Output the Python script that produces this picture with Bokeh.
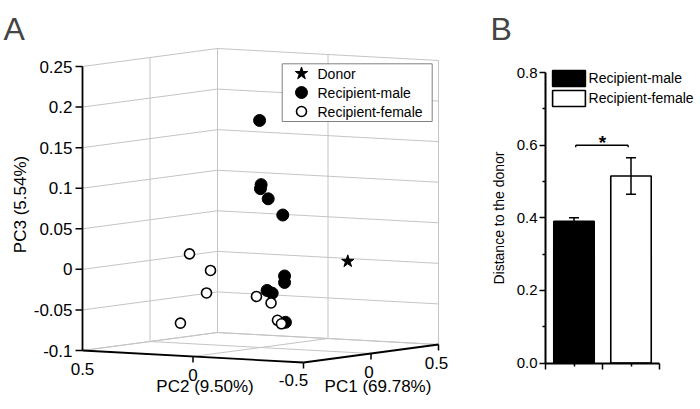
import numpy as np
from bokeh.plotting import figure
from bokeh.models import (Range1d, Legend, LegendItem, Label, FixedTicker, LinearAxis,
                          NumeralTickFormatter, ColumnDataSource)
from bokeh.embed import file_html
from bokeh.resources import INLINE
from bokeh.core.properties import value

FONT = "Liberation Sans"

# ---------------- Panel A data: PCA scores ----------------
donor_pc1 = [0.45]
donor_pc2 = [-0.12]
donor_pc3 = [-0.002]

male_pc1 = [-0.2, -0.2, -0.2, -0.2, -0.2, -0.2, -0.2, -0.2, -0.2, -0.2]
male_pc2 = [-0.118, -0.125, -0.122, -0.157, -0.223, -0.231, -0.231, -0.152, -0.175, -0.235]
male_pc3 = [0.186, 0.107, 0.102, 0.090, 0.071, -0.004, -0.012, -0.023, -0.026, -0.061]

female_pc1 = [-0.3, -0.3, -0.3, -0.3, -0.3, -0.3, -0.3, -0.3]
female_pc2 = [0.138, 0.043, 0.061, 0.179, -0.165, -0.231, -0.260, -0.278]
female_pc3 = [0.020, 0.001, -0.027, -0.066, -0.028, -0.035, -0.056, -0.060]

pc1_lim = [-0.5, 0.5]
pc2_lim = [-0.5, 0.5]
pc3_lim = [-0.1, 0.25]
pc1_ticks = [-0.5, 0.0, 0.5]
pc1_tick_labels = ["-0.5", "0", "0.5"]
pc2_ticks = [0.5, 0.0]
pc2_tick_labels = ["0.5", "0"]
pc3_ticks = [-0.1, -0.05, 0.0, 0.05, 0.1, 0.15, 0.2, 0.25]
pc3_tick_labels = ["-0.1", "-0.05", "0", "0.05", "0.1", "0.15", "0.2", "0.25"]
pc1_title = "PC1 (69.78%)"
pc2_title = "PC2 (9.50%)"
pc3_title = "PC3 (5.54%)"
legend_a = ["Donor", "Recipient-male", "Recipient-female"]

# ---------------- Panel B data ----------------
groups = ["Recipient-male", "Recipient-female"]
group_pos = [1, 2]
distance = [0.39, 0.515]
distance_err = [0.01, 0.05]
b_yticks = [0.0, 0.2, 0.4, 0.6, 0.8]
b_yminor = [0.1, 0.3, 0.5, 0.7]
b_xlim = [0.5, 2.5]
b_ylim = [0.0, 0.8]
b_xmajor = [0.5, 1.5, 2.5]
signif = "*"
signif_level = 0.6
b_ylabel = "Distance to the donor"

# ---------------- canvas / 3D view (orthographic projection) ----------------
W, H = 700, 409
PX = (135.0, -221.0, 0.0)
PY = (18.0, 12.0, 811.4)
ORIGIN_X, ORIGIN_Y = 260.0, 265.86      # screen position of the projection origin


def proj(a, b, c):
    a = np.asarray(a, float)
    b = np.asarray(b, float)
    c = np.asarray(c, float)
    return PX[0] * a + PX[1] * b + PX[2] * c, PY[0] * a + PY[1] * b + PY[2] * c


def scr_x(px):
    return px - ORIGIN_X


def scr_y(py):
    return ORIGIN_Y - py


# panel B placement on the canvas (pixels)
B_LEFT_PX, B_XUNIT = 545.0, 57.0
B_BOTTOM_PX, B_YUNIT = 362.5, 363.125

p = figure(width=W, height=H,
           x_range=Range1d(-ORIGIN_X, W - ORIGIN_X),
           y_range=Range1d(ORIGIN_Y - H, ORIGIN_Y),
           output_backend="svg", toolbar_location=None, x_axis_location=None,
           y_axis_location=None, min_border=0, outline_line_color=None)
p.grid.visible = False
p.xgrid.visible = False
p.ygrid.visible = False
p.extra_x_ranges = {"b": Range1d(b_xlim[0] - B_LEFT_PX / B_XUNIT,
                                 b_xlim[0] + (W - B_LEFT_PX) / B_XUNIT)}
p.extra_y_ranges = {"b": Range1d(b_ylim[0] - (H - B_BOTTOM_PX) / B_YUNIT,
                                 b_ylim[0] + B_BOTTOM_PX / B_YUNIT)}

a0, a1 = pc1_lim
b0, b1 = pc2_lim
c0, c1 = pc3_lim

gx, gy = [], []


def seg(pt, qt, xs, ys):
    x, y = proj([pt[0], qt[0]], [pt[1], qt[1]], [pt[2], qt[2]])
    xs.append(list(x))
    ys.append(list(y))


# back walls and floor grid
for t in pc3_ticks:
    seg((a0, b1, t), (a1, b1, t), gx, gy)
    seg((a1, b1, t), (a1, b0, t), gx, gy)
for t in pc1_ticks[1:]:
    seg((t, b1, c0), (t, b1, c1), gx, gy)
    seg((t, b1, c0), (t, b0, c0), gx, gy)
for t in [b1, 0.0, b0]:
    seg((a1, t, c0), (a1, t, c1), gx, gy)
for t in pc2_ticks:
    seg((a0, t, c0), (a1, t, c0), gx, gy)
p.multi_line(gx, gy, line_color="#c4c4c4", line_width=1)

# black axes
ax, ay = [], []
seg((a0, b1, c0), (a0, b1, c1), ax, ay)
seg((a0, b1, c0), (a0, b0, c0), ax, ay)
seg((a0, b0, c0), (a1, b0, c0), ax, ay)
p.multi_line(ax, ay, line_color="black", line_width=1.8)

TICK = 7.0
zx, zy = proj([a0] * len(pc3_ticks), [b1] * len(pc3_ticks), pc3_ticks)
p.segment(x0=zx, y0=zy, x1=zx - TICK, y1=zy, line_color="black", line_width=1.5)
p.text(x=zx, y=zy, text=pc3_tick_labels, x_offset=-10, text_align="right",
       text_baseline="middle", text_font=value(FONT), text_font_size="17px", text_color="black")
ux, uy = proj([a0] * len(pc2_ticks), pc2_ticks, [c0] * len(pc2_ticks))
tk = [i for i, t in enumerate(pc2_ticks) if t != b1]
p.segment(x0=ux[tk], y0=uy[tk], x1=ux[tk], y1=uy[tk] - 6, line_color="black", line_width=1.5)
p.text(x=ux, y=uy, text=pc2_tick_labels, y_offset=18, text_align="center",
       text_baseline="middle", text_font=value(FONT), text_font_size="17px", text_color="black")
vx, vy = proj(pc1_ticks, [b0] * len(pc1_ticks), [c0] * len(pc1_ticks))
p.segment(x0=vx, y0=vy, x1=vx, y1=vy - 6, line_color="black", line_width=1.5)
p.text(x=vx, y=vy, text=pc1_tick_labels, x_offset=[-10 if t == a0 else -2 for t in pc1_ticks],
       y_offset=[17 if t == a0 else 18.5 for t in pc1_ticks], text_align="center",
       text_baseline="middle", text_font=value(FONT), text_font_size="17px", text_color="black")

mx, my = proj([a0], [(b0 + b1) / 2], [c0])
p.text(x=mx, y=my, text=[pc2_title], x_offset=12, y_offset=30, text_align="center",
       text_baseline="middle", text_font=value(FONT), text_font_size="17px", text_color="black")
mx, my = proj([(a0 + a1) / 2], [b0], [c0])
p.text(x=mx, y=my, text=[pc1_title], x_offset=7, y_offset=33, text_align="center",
       text_baseline="middle", text_font=value(FONT), text_font_size="17px", text_color="black")
mx, my = proj([a0], [b1], [(c0 + c1) / 2])
p.text(x=mx, y=my, text=[pc3_title], x_offset=-62, y_offset=-4, angle=np.pi / 2,
       text_align="center", text_baseline="middle", text_font=value(FONT),
       text_font_size="17px", text_color="black")

STYLE_D = dict(marker="star", size=13, fill_color="black", line_color="black")
STYLE_M = dict(marker="circle", size=12, fill_color="black", line_color="black")
STYLE_F = dict(marker="circle", size=10, fill_color="white", line_color="black", line_width=1.6)

dx, dy = proj(donor_pc1, donor_pc2, donor_pc3)
p.scatter(dx, dy, **STYLE_D)
mxs, mys = proj(male_pc1, male_pc2, male_pc3)
p.scatter(mxs, mys, **STYLE_M)
fxs, fys = proj(female_pc1, female_pc2, female_pc3)
p.scatter(fxs, fys, **STYLE_F)

# legend of panel A (box, swatches, labels)
LA_L, LA_T, LA_R, LA_B = 281.7, 63.3, 431.7, 121.0
LA_ROWS = [73.0, 92.0, 111.0]
LA_MX, LA_TX = 301.0, 317.0
p.quad(left=[scr_x(LA_L)], right=[scr_x(LA_R)], top=[scr_y(LA_T)], bottom=[scr_y(LA_B)],
       fill_color="white", line_color="#808080", line_width=1)
for style, ry in zip([STYLE_D, STYLE_M, STYLE_F], LA_ROWS):
    p.scatter([scr_x(LA_MX)], [scr_y(ry)], **style)
p.text(x=[scr_x(LA_TX)] * 3, y=[scr_y(r) for r in LA_ROWS], text=legend_a,
       text_align="left", text_baseline="middle", text_font=value(FONT),
       text_font_size="14px", text_color="black")

p.add_layout(Label(x=3, y=H - 28, x_units="screen", y_units="screen", text="A",
                   text_font=FONT, text_font_size="32px", text_baseline="alphabetic"))

# ---------------- Panel B ----------------
RB = dict(x_range_name="b", y_range_name="b")
src = ColumnDataSource(dict(x=group_pos, top=distance, color=["black", "white"]))
r_b = p.vbar(x="x", top="top", width=0.71, fill_color="color", line_color="black",
             line_width=1.6, source=src, **RB)
lo = [d - e for d, e in zip(distance, distance_err)]
hi = [d + e for d, e in zip(distance, distance_err)]
p.segment(x0=group_pos, y0=lo, x1=group_pos, y1=hi, line_color="black", line_width=1.5, **RB)
p.scatter(group_pos, hi, marker="dash", size=10, line_color="black", line_width=1.5, **RB)
p.scatter(group_pos, lo, marker="dash", size=10, line_color="black", line_width=1.5, **RB)

bx0 = group_pos[0] + 0.03
bx1 = group_pos[1] - 0.05
p.segment(x0=[bx0, bx0, bx1], y0=[signif_level] * 3,
          x1=[bx1, bx0, bx1], y1=[signif_level, signif_level - 0.006, signif_level - 0.006],
          line_color="black", line_width=1.5, **RB)
p.text(x=[(group_pos[0] + group_pos[1]) / 2], y=[signif_level + 0.008], text=[signif],
       text_align="center", text_baseline="alphabetic", text_font=value(FONT),
       text_font_size="19px", text_font_style="bold", text_color="black", **RB)

legB = Legend(items=[LegendItem(label=groups[0], renderers=[r_b], index=0),
                     LegendItem(label=groups[1], renderers=[r_b], index=1)],
              location=(547.6, H - 107.7), padding=0, spacing=-2, glyph_width=41,
              glyph_height=20, label_height=20, label_standoff=0, label_text_font=FONT,
              label_text_font_size="14px", label_text_baseline="middle",
              label_text_color="black",
              border_line_alpha=0, background_fill_alpha=0, margin=0)
p.add_layout(legB)

yax = LinearAxis(fixed_location=b_xlim[0], bounds=tuple(b_ylim), **RB)
yax.ticker = FixedTicker(ticks=b_yticks, minor_ticks=b_yminor)
yax.formatter = NumeralTickFormatter(format="0.0")
yax.axis_label = b_ylabel
yax.axis_label_text_font = FONT
yax.axis_label_text_font_size = "14px"
yax.axis_label_text_font_style = "normal"
yax.axis_label_text_color = "black"
yax.axis_label_standoff = 7
yax.major_label_text_font = FONT
yax.major_label_text_font_size = "15px"
yax.major_label_text_color = "black"
yax.major_label_standoff = 2
yax.major_tick_out = 6
yax.major_tick_in = 0
yax.minor_tick_out = 3
yax.minor_tick_in = 0
yax.axis_line_width = 2
yax.axis_line_color = "black"
yax.major_tick_line_width = 1.5
yax.minor_tick_line_width = 1.5
yax.major_tick_line_color = "black"
yax.minor_tick_line_color = "black"
p.add_layout(yax, "left")

xax1 = LinearAxis(fixed_location=b_ylim[0], bounds=tuple(b_xlim), **RB)
xax1.ticker = FixedTicker(ticks=[], minor_ticks=b_xmajor)
xax1.minor_tick_out = 6
xax1.minor_tick_in = 0
xax1.minor_tick_line_width = 1.5
xax1.minor_tick_line_color = "black"
xax1.axis_line_width = 2
xax1.axis_line_color = "black"
p.add_layout(xax1, "below")

xax2 = LinearAxis(fixed_location=b_ylim[0], bounds=tuple(b_xlim), **RB)
xax2.ticker = FixedTicker(ticks=[], minor_ticks=group_pos)
xax2.minor_tick_out = 3
xax2.minor_tick_in = 0
xax2.minor_tick_line_width = 1.5
xax2.minor_tick_line_color = "black"
xax2.axis_line_color = None
p.add_layout(xax2, "below")

p.add_layout(Label(x=490, y=H - 28, x_units="screen", y_units="screen", text="B",
                   text_font=FONT, text_font_size="32px", text_baseline="alphabetic"))

open("out.html", "w").write(file_html(p, INLINE))
